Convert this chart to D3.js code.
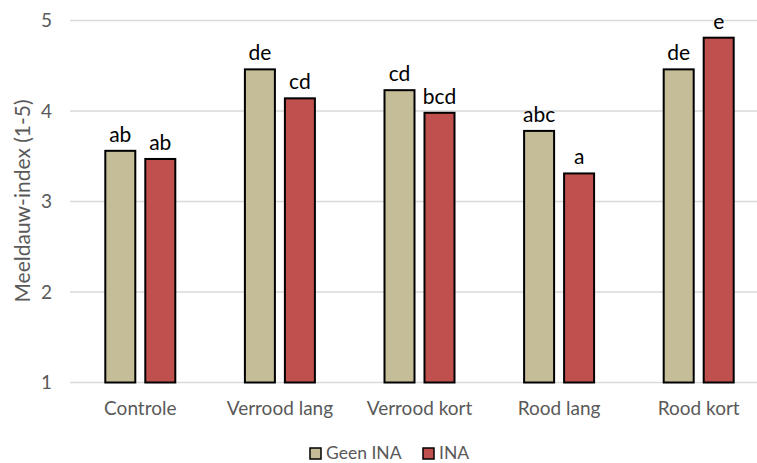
<!DOCTYPE html>
<html><head><meta charset="utf-8">
<script src="https://cdn.jsdelivr.net/npm/d3@7"></script>
<style>body{margin:0;background:#fff;overflow:hidden}text{font-family:Lato,"Open Sans",sans-serif}</style>
</head><body><svg id="c" width="757" height="463"></svg>
<script>
const categories = ["Controle","Verrood lang","Verrood kort","Rood lang","Rood kort"];
const seriesNames = ["Geen INA","INA"];
const geenINA = [3.56, 4.46, 4.23, 3.78, 4.46];
const ina = [3.47, 4.14, 3.98, 3.31, 4.81];
const labelsGeen = ["ab","de","cd","abc","de"];
const labelsINA = ["ab","cd","bcd","a","e"];
const yTicks = [1,2,3,4,5];
const colors = ["#C4BD97","#C0504D"];

const svg = d3.select("#c");
const x = d3.scaleBand().domain(categories).range([70.5, 768.5]);
const y = d3.scaleLinear().domain([1,5]).range([382.5, 20.5]);

svg.append("g").selectAll("line").data(yTicks).join("line")
  .attr("x1",70).attr("x2",757).attr("y1",d=>y(d)).attr("y2",d=>y(d))
  .attr("stroke","#D9D9D9").attr("stroke-width",1.3);

svg.append("g").selectAll("text").data(yTicks).join("text")
  .attr("x",52).attr("y",d=>y(d)+6.5).attr("text-anchor","end")
  .attr("font-size",19).attr("fill","#595959").text(d=>d);

svg.append("text").attr("transform","translate(30,201) rotate(-90)")
  .attr("text-anchor","middle").attr("font-size",21).attr("fill","#595959")
  .text("Meeldauw-index (1-5)");

const series = [geenINA, ina];
const labs = [labelsGeen, labelsINA];
series.forEach((vals,si)=>{
  const g = svg.append("g");
  g.selectAll("rect").data(categories).join("rect")
    .attr("x",(c)=>x(c)+x.bandwidth()/2 + (si===0?-35:5))
    .attr("width",30)
    .attr("y",(c,i)=>y(vals[i]))
    .attr("height",(c,i)=>y(1)-y(vals[i]))
    .attr("fill",colors[si]).attr("stroke","#000").attr("stroke-width",2);
  g.selectAll("text").data(categories).join("text")
    .attr("x",(c)=>x(c)+x.bandwidth()/2 + (si===0?-20:20))
    .attr("y",(c,i)=>y(vals[i])-9)
    .attr("text-anchor","middle").attr("font-size",21).attr("fill","#000")
    .text((c,i)=>labs[si][i]);
});

svg.append("g").selectAll("text").data(categories).join("text")
  .attr("x",c=>x(c)+x.bandwidth()/2).attr("y",415)
  .attr("text-anchor","middle").attr("font-size",19).attr("fill","#595959").text(c=>c);

const legX = [310, 423];
seriesNames.forEach((n,i)=>{
  svg.append("rect").attr("x",legX[i]).attr("y",448).attr("width",11).attr("height",11)
    .attr("fill",colors[i]).attr("stroke","#000").attr("stroke-width",1.5);
  svg.append("text").attr("x",legX[i]+16).attr("y",459).attr("font-size",17.5)
    .attr("fill","#595959").text(n);
});
</script></body></html>
